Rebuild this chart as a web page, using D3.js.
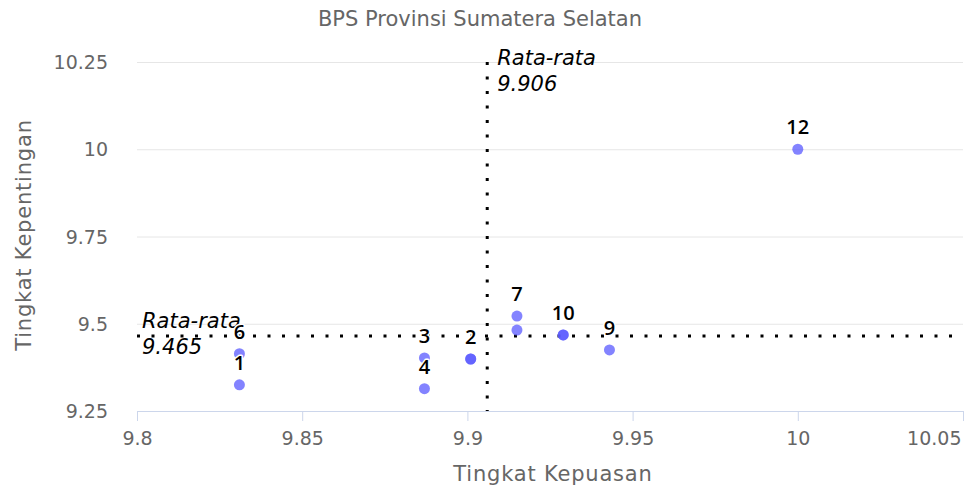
<!DOCTYPE html>
<html>
<head>
<meta charset="utf-8">
<script src="https://cdn.jsdelivr.net/npm/d3@7"></script>
<style>
  body { margin: 0; background: #fff; }
  text { font-family: "DejaVu Sans", sans-serif; }
</style>
</head>
<body>
<script>
var width = 965, height = 490;

// data
var labels = ["1", "2", "3", "4", "5", "6", "7", "8", "9", "10", "11", "12"];
var kepuasan = [9.831, 9.901, 9.887, 9.887, 9.901, 9.831, 9.915, 9.915, 9.943, 9.929, 9.929, 10.0];
var kepentingan = [9.325, 9.399, 9.402, 9.314, 9.399, 9.414, 9.522, 9.482, 9.425, 9.468, 9.468, 10.0];
var xTicks = [9.8, 9.85, 9.9, 9.95, 10, 10.05];
var yTicks = [9.25, 9.5, 9.75, 10, 10.25];
var meanX = 9.906, meanY = 9.465;

var points = labels.map(function(l, i) { return {label: l, x: kepuasan[i], y: kepentingan[i]}; });

var x = d3.scaleLinear().domain([9.8, 10.05]).range([137, 963]);
var y = d3.scaleLinear().domain([9.25, 10.25]).range([411, 62]);

var svg = d3.select("body").append("svg")
    .attr("width", width).attr("height", height);

// title
svg.append("text").attr("x", 480).attr("y", 26)
    .attr("text-anchor", "middle").attr("fill", "#666")
    .style("font-size", "21px")
    .text("BPS Provinsi Sumatera Selatan");

// grid
svg.append("g").selectAll("line").data(yTicks.slice(1)).enter().append("line")
    .attr("x1", 137).attr("x2", 963)
    .attr("y1", function(d) { return y(d) + 0.5; }).attr("y2", function(d) { return y(d) + 0.5; })
    .attr("stroke", "#e6e6e6");

// y labels
svg.append("g").selectAll("text").data(yTicks).enter().append("text")
    .attr("x", 108).attr("y", function(d) { return y(d) + 7; })
    .attr("text-anchor", "end").attr("fill", "#666")
    .style("font-size", "19px")
    .text(function(d) { return d; });

// x axis
var xAxis = d3.axisBottom(x).tickValues(xTicks).tickSize(10).tickFormat(function(d) { return d; });
var gx = svg.append("g").attr("transform", "translate(0,411)").call(xAxis);
gx.select(".domain").attr("stroke", "#ccd6eb").attr("d", "M137.5,0.5H963.5");
gx.selectAll(".tick line").attr("stroke", "#ccd6eb");
gx.selectAll(".tick text").attr("fill", "#666").attr("dy", "1.1em")
    .style("font-size", "19px").style("font-family", "DejaVu Sans, sans-serif");
gx.selectAll(".tick text").filter(function(d) { return d === 10.05; })
    .attr("text-anchor", "end").attr("x", -2);

// axis titles
svg.append("text").attr("x", 553).attr("y", 481)
    .attr("text-anchor", "middle").attr("fill", "#666")
    .style("font-size", "21px").style("letter-spacing", "0.8px").text("Tingkat Kepuasan");
svg.append("text").attr("transform", "translate(31,235) rotate(-90)")
    .attr("text-anchor", "middle").attr("fill", "#666")
    .style("font-size", "21px").style("letter-spacing", "0.8px").text("Tingkat Kepentingan");

// mean lines
svg.append("line")
    .attr("x1", x(meanX)).attr("x2", x(meanX)).attr("y1", 62).attr("y2", 411)
    .attr("stroke", "#000").attr("stroke-width", 3).attr("stroke-dasharray", "3,11.5");
svg.append("line")
    .attr("x1", 137).attr("x2", 963).attr("y1", y(meanY)).attr("y2", y(meanY))
    .attr("stroke", "#000").attr("stroke-width", 3).attr("stroke-dasharray", "3,11.5");

var vLab = svg.append("text").attr("x", x(meanX) + 10).attr("y", 65)
    .style("font-size", "21px").style("font-style", "italic").attr("fill", "#000");
vLab.append("tspan").text("Rata-rata");
vLab.append("tspan").attr("x", x(meanX) + 10).attr("dy", 26).text(meanX.toFixed(3));

var hLab = svg.append("text").attr("x", 142).attr("y", 328)
    .style("font-size", "21px").style("font-style", "italic").attr("fill", "#000");
hLab.append("tspan").text("Rata-rata");
hLab.append("tspan").attr("x", 142).attr("dy", 26).text(meanY.toFixed(3));

// markers
svg.append("g").selectAll("circle").data(points).enter().append("circle")
    .attr("cx", function(d) { return x(d.x); })
    .attr("cy", function(d) { return y(d.y); })
    .attr("r", 5.5)
    .attr("fill", "rgb(90,90,255)").attr("fill-opacity", 0.75);

// data labels, hide the ones that collide with an earlier label
var placed = [];
svg.append("g").selectAll("text").data(points).enter().append("text")
    .attr("x", function(d) { return x(d.x); })
    .attr("y", function(d) { return y(d.y) - 15; })
    .attr("text-anchor", "middle")
    .style("font-family", "'Open Sans', sans-serif")
    .style("font-size", "20px").style("font-weight", "600")
    .attr("fill", "#000").attr("stroke", "#fff").attr("stroke-width", 3)
    .attr("paint-order", "stroke").attr("stroke-linejoin", "round")
    .text(function(d) { return d.label; })
    .each(function() {
        var b = this.getBBox();
        var hit = placed.some(function(p) {
            return b.x < p.x + p.width && p.x < b.x + b.width && b.y < p.y + p.height && p.y < b.y + b.height;
        });
        if (hit) d3.select(this).remove(); else placed.push(b);
    });
</script>
</body>
</html>
